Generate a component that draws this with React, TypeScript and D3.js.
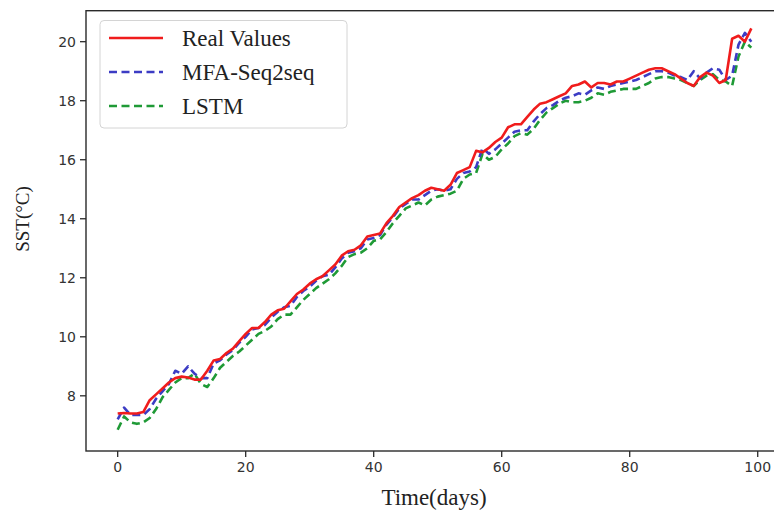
import React, { useEffect, useRef } from 'react';
import * as d3 from 'd3';

const width = 774;
const height = 517;

// plot frame (right edge falls just outside the picture)
const frame = { left: 86, top: 10.7, right: 783, bottom: 451 };

const seriesNames = ['Real Values', 'MFA-Seq2seq', 'LSTM'];

const realValues = [
  7.4, 7.42, 7.4, 7.4, 7.45, 7.85, 8.05, 8.25, 8.45, 8.6,
  8.65, 8.62, 8.55, 8.55, 8.85, 9.2, 9.25, 9.45, 9.6, 9.85,
  10.1, 10.3, 10.3, 10.5, 10.75, 10.9, 10.95, 11.2, 11.45, 11.6,
  11.8, 11.95, 12.05, 12.25, 12.45, 12.75, 12.9, 12.95, 13.1, 13.4,
  13.45, 13.5, 13.85, 14.1, 14.4, 14.55, 14.7, 14.8, 14.95, 15.05,
  15.0, 14.95, 15.15, 15.55, 15.65, 15.75, 16.3, 16.25, 16.4, 16.6,
  16.75, 17.1, 17.2, 17.2, 17.45, 17.7, 17.9, 17.95, 18.05, 18.15,
  18.25, 18.5, 18.55, 18.65, 18.45, 18.6, 18.6, 18.55, 18.65, 18.65,
  18.75, 18.85, 18.95, 19.05, 19.1, 19.1, 19.0, 18.9, 18.75, 18.6,
  18.5, 18.8, 18.95, 18.85, 18.6, 18.7, 20.1, 20.2, 20.0, 20.45,
];

const mfaValues = [
  7.2, 7.6, 7.35, 7.35, 7.35, 7.55, 7.9, 8.15, 8.4, 8.85,
  8.75, 9.0, 8.75, 8.6, 8.6, 9.1, 9.2, 9.4, 9.55, 9.8,
  10.0, 10.25, 10.3, 10.4, 10.65, 10.85, 11.0, 11.05, 11.35, 11.55,
  11.7, 11.9, 12.05, 12.1, 12.35, 12.65, 12.85, 12.9, 13.0, 13.3,
  13.35, 13.45, 13.8, 14.05, 14.35, 14.5, 14.65, 14.65, 14.8, 14.95,
  15.0, 14.95, 15.0, 15.35, 15.55, 15.6, 15.75, 16.4, 16.2, 16.35,
  16.55, 16.75, 16.95, 17.0, 17.0, 17.3, 17.55, 17.75, 17.85, 18.0,
  18.1, 18.15, 18.25, 18.2, 18.35, 18.45, 18.4, 18.5, 18.55, 18.6,
  18.65, 18.7, 18.8, 18.9, 19.0, 19.0, 18.95, 18.85, 18.8, 18.7,
  19.0, 18.75, 18.95, 19.1, 19.05, 18.7, 18.85, 19.9, 20.3, 20.0,
];

const lstmValues = [
  6.85, 7.3, 7.1, 7.05, 7.1, 7.25, 7.55, 7.95, 8.2, 8.45,
  8.6, 8.6, 8.75, 8.4, 8.3, 8.6, 8.95, 9.15, 9.35, 9.5,
  9.7, 9.9, 10.1, 10.2, 10.35, 10.6, 10.75, 10.75, 11.0, 11.25,
  11.45, 11.65, 11.8, 11.95, 12.15, 12.4, 12.7, 12.8, 12.85, 13.0,
  13.25, 13.3, 13.55, 13.85, 14.1, 14.35, 14.45, 14.55, 14.45, 14.65,
  14.75, 14.8, 14.85, 14.95, 15.35, 15.5, 15.55, 16.2, 16.0, 16.1,
  16.35, 16.55, 16.8, 16.9, 16.85, 17.05, 17.35, 17.6, 17.75, 17.9,
  18.0, 17.95, 17.95, 18.0, 18.1, 18.25, 18.2, 18.3, 18.35, 18.4,
  18.4, 18.4, 18.5, 18.6, 18.75, 18.8, 18.8, 18.75, 18.7, 18.6,
  18.5, 18.7, 18.85, 18.9, 18.7, 18.65, 18.5, 19.5, 20.0, 19.8,
];

const xTicks = [0, 20, 40, 60, 80, 100];
const yTicks = [8, 10, 12, 14, 16, 18, 20];

const colors = ['#f01c1c', '#3c3cc4', '#1f9a36'];
const dashes = [null, '8,4.5', '8,4.5'];

const App = () => {
  const root = useRef<SVGSVGElement>(null);

  useEffect(() => {
    const svg = d3.select(root.current);
    svg.selectAll('*').remove();

    const x = d3.scaleLinear().domain([-4.95, 103.95]).range([frame.left, frame.right]);
    const y = d3.scaleLinear().domain([6.13, 21.05]).range([frame.bottom, frame.top]);

    const data = [realValues, mfaValues, lstmValues];
    const line = d3
      .line<number>()
      .x((d, i) => x(i))
      .y(d => y(d));

    const g = svg.append('g');

    // draw LSTM first, real values on top
    [2, 1, 0].forEach(k => {
      g.append('path')
        .attr('d', line(data[k]))
        .attr('fill', 'none')
        .attr('stroke', colors[k])
        .attr('stroke-width', 2.6)
        .attr('stroke-linejoin', 'round')
        .attr('stroke-dasharray', dashes[k]);
    });

    // frame
    svg.append('rect')
      .attr('x', frame.left)
      .attr('y', frame.top)
      .attr('width', frame.right - frame.left)
      .attr('height', frame.bottom - frame.top)
      .attr('fill', 'none')
      .attr('stroke', '#2a2a2a')
      .attr('stroke-width', 1.4);

    const tickFont = "'DejaVu Sans', sans-serif";

    const xAxis = svg.append('g');
    xAxis.selectAll('line').data(xTicks).enter().append('line')
      .attr('x1', d => x(d)).attr('x2', d => x(d))
      .attr('y1', frame.bottom).attr('y2', frame.bottom + 6)
      .attr('stroke', '#2a2a2a').attr('stroke-width', 1.3);
    xAxis.selectAll('text').data(xTicks).enter().append('text')
      .attr('x', d => x(d)).attr('y', frame.bottom + 21)
      .attr('text-anchor', 'middle')
      .attr('font-family', tickFont).attr('font-size', 14)
      .attr('fill', '#333')
      .text(d => d);

    const yAxis = svg.append('g');
    yAxis.selectAll('line').data(yTicks).enter().append('line')
      .attr('x1', frame.left - 6).attr('x2', frame.left)
      .attr('y1', d => y(d)).attr('y2', d => y(d))
      .attr('stroke', '#2a2a2a').attr('stroke-width', 1.3);
    yAxis.selectAll('text').data(yTicks).enter().append('text')
      .attr('x', frame.left - 10).attr('y', d => y(d))
      .attr('dy', '0.36em')
      .attr('text-anchor', 'end')
      .attr('font-family', tickFont).attr('font-size', 14)
      .attr('fill', '#333')
      .text(d => d);

    const serif = "'Liberation Serif', 'Times New Roman', serif";

    svg.append('text')
      .attr('x', 434).attr('y', 505)
      .attr('text-anchor', 'middle')
      .attr('font-family', serif).attr('font-size', 23)
      .attr('fill', '#222')
      .text('Time(days)');

    svg.append('text')
      .attr('transform', 'translate(29,219) rotate(-90)')
      .attr('text-anchor', 'middle')
      .attr('font-family', serif).attr('font-size', 19)
      .attr('fill', '#222')
      .text('SST(°C)');

    // legend
    const legend = svg.append('g');
    legend.append('rect')
      .attr('x', 100).attr('y', 20.5)
      .attr('width', 247).attr('height', 107.5)
      .attr('rx', 4)
      .attr('fill', 'white').attr('fill-opacity', 0.85)
      .attr('stroke', '#d4d4d4').attr('stroke-width', 1);

    const rows = [38, 72, 106];
    seriesNames.forEach((name, k) => {
      legend.append('line')
        .attr('x1', 109).attr('x2', 163)
        .attr('y1', rows[k]).attr('y2', rows[k])
        .attr('stroke', colors[k])
        .attr('stroke-width', 2.6)
        .attr('stroke-dasharray', dashes[k]);
      legend.append('text')
        .attr('x', 182).attr('y', rows[k])
        .attr('dy', '0.35em')
        .attr('font-family', serif).attr('font-size', 23)
        .attr('fill', '#222')
        .text(name);
    });
  }, []);

  return (
    <div style={{ position: 'absolute', left: 0, top: 0 }}>
      <svg width={width} height={height} ref={root} style={{ display: 'block', background: 'white' }} />
    </div>
  );
};

export default App;
